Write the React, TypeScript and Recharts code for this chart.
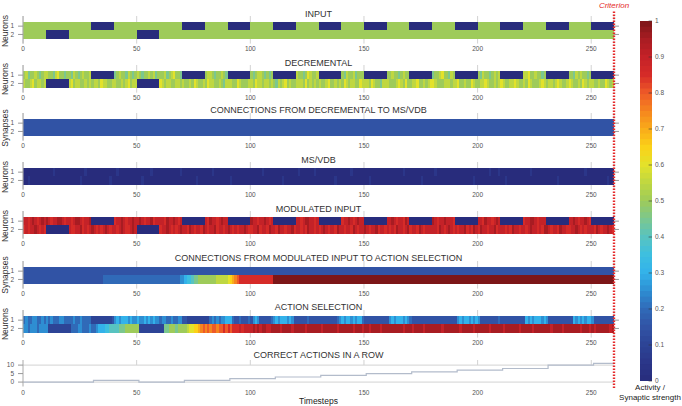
import React from 'react'
import { ComposedChart, XAxis, YAxis, CartesianGrid, ReferenceArea, ReferenceLine, Line } from 'recharts'

const FONT = '"Liberation Sans", Arial, Helvetica, sans-serif'

// x axis (timesteps)
const xTicks = [0, 50, 100, 150, 200, 250]
const tMax = 260
const criterionT = 260

// heatmap values: one char per timestep, 10 timesteps per chunk
// a = 0, b = 0.05, c = 0.1 ... k = 0.5 ... u = 1
const G = 'kkkkkkkkkk'
const N = 'aaaaaaaaaa'
const D = 'dddddddddd'
const U = 'uuuuuuuuuu'

const inputN1 = [G, G, G, N, G, G, G, N, G, N, G, N, G, N, G, N, G, N, G, N, G, N, G, N, G, N]
const inputN2 = [G, N, G, G, G, N, G, G, G, G, G, G, G, G, G, G, G, G, G, G, G, G, G, G, G, G]

const decN1 = [
  'kljkklkjkl', 'lkkjlmkkjk', 'kjlkjklkkl', N, 'jklkkjlkjk', 'lkjkklkljk', 'kkljklmkkj', N,
  'kllkjkklkj', N, 'kjkllkjkjk', N, 'lkkjkmlkkl', N, 'kjlkkljkkk', N, 'kklkkjklkk', N,
  'jkklmkkjlk', N, 'kjlkkjklkl', N, 'llmkklkkjk', N, 'kkjlklkkjk', N,
]
const decN2 = [
  'lkklmkllkl', N, 'lmkllkklkl', 'kllkmllkkl', 'lkklklmkll', N, 'mlkllkkllk', 'lkklkmlkkl',
  'kmllkklkjl', 'llkkmlkkkl', 'lkmllkllkl', 'kjlklmklkk', 'lllkmklklk', 'lkklmkklkl',
  'kmlkllkkml', 'llkmlkkjll', 'lkkklmlkmk', 'kllmkklklm', 'mlkkklllkl', 'lmkklkkmlk',
  'kllmlkklkl', 'mlkkllmlkk', 'lkmlkkklml', 'kllklmlkkl', 'mlkklkmlkl', 'lkklkkmlkl',
]

const connDecS1 = Array(26).fill(D)
const connDecS2 = Array(26).fill(D)

const msvdbN1 = [
  N, 'aaabaaaaaa', 'aaaaaaabaa', N, 'abaaaaaaaa', 'aaaaaabaaa', 'aaaaaaaaab', N, 'aaabaaaaaa', N,
  'aaaaabaaaa', N, 'abaaaaaaba', N, 'aaaabaaaaa', N, 'aaaaaaabaa', N, 'abaaaaaaaa', N,
  'aaaaabaaab', N, 'aaabaaaaaa', N, 'aaaaaaabaa', N,
]
const msvdbN2 = [
  'aabaaaaaaa', N, 'aaaaabaaaa', 'aaaaaaaaba', N, 'aabaaaaaaa', N, 'aaaaaabaaa', N, 'abaaaaaaaa',
  N, 'aaaabaaaaa', N, 'aaaaaaabaa', N, 'aabaaaaaaa', N, 'aaaaabaaaa', N, 'aaaaaaaaba',
  N, 'aabaaaaaaa', N, 'aaaaabaaaa', N, 'aaaaaaabaa',
]

const modN1 = [
  'ssrstsrsts', 'tsrssttsrs', 'srsttsrsst', N, 'rsstsrssts', 'stsrsstrss', 'ssrtsstsrs', N,
  'srtssrstss', N, 'tssrsstsrs', N, 'ssrsttssrs', N, 'rsstsrstss', N, 'sstsrssrts', N,
  'tsrsstsssr', N, 'ssrtssrsts', N, 'rssttsrsss', N, 'sstsrsstsr', N,
]
const modN2 = [
  'rsrsstsrsr', N, 'srrsstrsrs', 'tsrsrstsrs', 'srstsrrsts', N, 'rsstsrsrst', 'ssrtsrssrt',
  'srsstrssrs', 'tsrsrsstsr', 'rsstrssrts', 'srtssrsstr', 'ssrsrtssrs', 'rstsrssrts',
  'srssrtsrss', 'tsrsstrssr', 'srsrtssrst', 'rssrtsrsss', 'ssrtsrstsr', 'srsstrsrts',
  'rtssrsstrs', 'ssrsrtssrs', 'srstssrsrt', 'tsrssrtssr', 'rsstsrsrss', 'srtsrsstsr',
]

const connModS1 = Array(26).fill(D)
const connModS2 = [
  D, D, D, 'dddddeeeee', 'eeeeeeeeee', 'eeeeeeeeee', 'eeeeeeeeef', 'fghhijjkkk', 'kkkkklllll',
  'mnopqrrrrr', 'rrrrrrrrrr', U, U, U, U, U, U, U, U, U, U, U, U, U, U, U,
]

const actN1 = [
  'efeeffeefe', 'fefeeeffee', 'eefeefeeee', 'cccccccccd', 'fgfgggfgff', 'gffgfgfgff', 'effeefeeff',
  'ddcccccccc', 'ccefefeffg', 'ggeddeddde', 'dfgfddddde', 'fgfgggfgfd', 'dddddedddd', 'ddddddddef',
  'gfggfgfgge', 'dddddddddd', 'dfgfgggfgf', 'eddddddddd', 'dddddddddd', 'dfgfggfgfg', 'fdddddddde',
  'dddddddddd', 'dgfgfgggfg', 'fddddddddd', 'ddgfgfgfgg', 'fddddddddd',
]
const actN2 = [
  'ffefffefff', 'fccccccccc', 'ceeeffeeef', 'eefggghhii', 'iijjjkkkkk', 'kccccccccc', 'ccjjkkkjkk',
  'kklmmnnopq', 'pqpqqpqqrq', 'rqrrrsrsss', 'stststtsst', 'tttsttttst', 'ttttsttttt', 'tsttttttst',
  'tttttsttts', 'ttsttttstt', 'tttttttstt', 'tsttttsttt', 'ttttsttttt', 'ttstttttst', 'tttttstttt',
  'tsttttttst', 'ttttsttttt', 'ttsttttstt', 'tttttsttts', 'tsttttttst',
]

// correct actions in a row (step changes)
const correctT = [0, 31, 51, 71, 91, 111, 131, 151, 171, 191, 211, 231, 251, 260]
const correctV = [0, 1, 0, 1, 2, 3, 4, 5, 6, 7, 8, 10, 11, 11]

const colorTicks = [0, 0.1, 0.2, 0.3, 0.4, 0.5, 0.6, 0.7, 0.8, 0.9, 1]

const panels = [
  { title: 'INPUT', yLabel: 'Neurons', rows: [inputN1, inputN2], titleY: 13.8, heatTop: 22.3 },
  { title: 'DECREMENTAL', yLabel: 'Neurons', rows: [decN1, decN2], titleY: 62.8, heatTop: 70.5 },
  { title: 'CONNECTIONS FROM DECREMENTAL TO MS/VDB', yLabel: 'Synapses', rows: [connDecS1, connDecS2], titleY: 110, heatTop: 119.3 },
  { title: 'MS/VDB', yLabel: 'Neurons', rows: [msvdbN1, msvdbN2], titleY: 160, heatTop: 168.3 },
  { title: 'MODULATED INPUT', yLabel: 'Neurons', rows: [modN1, modN2], titleY: 209.3, heatTop: 217.3 },
  { title: 'CONNECTIONS FROM MODULATED INPUT TO ACTION SELECTION', yLabel: 'Synapses', rows: [connModS1, connModS2], titleY: 257.5, heatTop: 266.7 },
  { title: 'ACTION SELECTION', yLabel: 'Neurons', rows: [actN1, actN2], titleY: 307.3, heatTop: 315.7 },
]

// colour map stops (value, hex)
const cmapStops: [number, string][] = [
  [0.0, '#282c7c'], [0.05, '#2b3689'], [0.1, '#2d4496'], [0.15, '#3153a5'], [0.2, '#306ab8'],
  [0.25, '#2e8ed2'], [0.3, '#33b2ea'], [0.35, '#3dbfe0'], [0.4, '#58c3c0'], [0.45, '#7bc78f'],
  [0.5, '#9ecb5a'], [0.55, '#bfd741'], [0.6, '#e3e22b'], [0.65, '#fbd118'], [0.7, '#f9ab1a'],
  [0.75, '#f5851f'], [0.8, '#ee5a28'], [0.85, '#d62b28'], [0.9, '#c42228'], [0.95, '#a81c22'],
  [1.0, '#7c1618'],
]

const hex = (h: string) => [1, 3, 5].map((i) => parseInt(h.slice(i, i + 2), 16))

function cmap(v: number) {
  for (let i = 1; i < cmapStops.length; i++) {
    const [v1, c1] = cmapStops[i]
    const [v0, c0] = cmapStops[i - 1]
    if (v <= v1 + 1e-9) {
      const f = (v - v0) / (v1 - v0)
      const a = hex(c0)
      const b = hex(c1)
      const rgb = a.map((x, k) => Math.round(x + (b[k] - x) * Math.max(0, Math.min(1, f))))
      return `rgb(${rgb.join(',')})`
    }
  }
  return cmapStops[cmapStops.length - 1][1]
}

const decode = (chunks: string[]) =>
  chunks.flatMap((chunk, i) => chunk.split('').map((c, j) => ({ t: i * 10 + j, v: (c.charCodeAt(0) - 97) / 20 })))

function toRuns(chunks: string[]) {
  const out: { x1: number; x2: number; v: number }[] = []
  decode(chunks).forEach(({ t, v }) => {
    const last = out[out.length - 1]
    if (last && last.v === v && last.x2 === t) last.x2 = t + 1
    else out.push({ x1: t, x2: t + 1, v })
  })
  return out
}

const tickStyle = { fontSize: 6.5, fill: '#555' }
const gridColor = '#d2d2d2'
const PLOT_H = 27.6
const AXIS_H = 14
const HEAT_DOMAIN = [-0.22, 3.1]
// small overlap so neighbouring cells leave no anti-aliasing seam
const SEAM = 0.25

function HeatPanel({ rows, heatTop }: { rows: string[][]; heatTop: number }) {
  const r1 = decode(rows[0])
  const r2 = decode(rows[1])
  const data = r1.map((d, i) => ({ t: d.t, n1: d.v, n2: r2[i] ? r2[i].v : null }))
  return (
    <div style={{ position: 'absolute', left: 0, top: heatTop - 6 }}>
      <ComposedChart width={682} height={PLOT_H + AXIS_H} data={data} margin={{ top: 0, right: 62, bottom: 0, left: 0 }}>
        <CartesianGrid stroke={gridColor} horizontal={false} />
        <XAxis
          type="number"
          dataKey="t"
          domain={[0, tMax]}
          ticks={xTicks}
          interval={0}
          height={AXIS_H}
          tick={tickStyle}
          tickLine={false}
          axisLine={false}
          tickSize={0}
          tickMargin={3}
        />
        <YAxis
          type="number"
          dataKey="n1"
          domain={HEAT_DOMAIN}
          allowDataOverflow
          reversed
          ticks={[1, 2]}
          interval={0}
          width={23}
          tick={tickStyle}
          tickSize={5}
          tickMargin={4}
          tickLine={{ stroke: '#999' }}
          axisLine={{ stroke: '#aaa' }}
        />
        <YAxis
          yAxisId="r"
          dataKey="n2"
          orientation="right"
          type="number"
          domain={HEAT_DOMAIN}
          allowDataOverflow
          reversed
          ticks={[1, 2]}
          interval={0}
          width={6}
          tickFormatter={() => ''}
          tickSize={5}
          tickLine={{ stroke: '#999' }}
          axisLine={false}
        />
        {rows.map((row, r) =>
          toRuns(row).map((run, k) => (
            <ReferenceArea
              key={`${r}-${k}`}
              x1={run.x1}
              x2={Math.min(tMax, run.x2 + SEAM)}
              y1={r + 0.5}
              y2={r === 0 ? 1.6 : 2.5}
              fill={cmap(run.v)}
              fillOpacity={1}
              stroke="none"
              shapeRendering="crispEdges"
            />
          ))
        )}
      </ComposedChart>
    </div>
  )
}

function CorrectPanel() {
  const data = correctT.map((t, i) => ({ t, v: correctV[i] }))
  return (
    <div style={{ position: 'absolute', left: 0, top: 359.5 }}>
      <ComposedChart width={682} height={26.5 + AXIS_H} data={data} margin={{ top: 0, right: 62, bottom: 0, left: 0 }}>
        <XAxis
          type="number"
          dataKey="t"
          domain={[0, tMax]}
          ticks={xTicks}
          interval={0}
          height={AXIS_H}
          tick={tickStyle}
          tickLine={false}
          axisLine={false}
          tickSize={0}
          tickMargin={4}
        />
        <YAxis
          type="number"
          domain={[-2.6, 13]}
          ticks={[0, 5, 10]}
          interval={0}
          width={23}
          tick={tickStyle}
          tickSize={5}
          tickMargin={4}
          tickLine={{ stroke: '#999' }}
          axisLine={{ stroke: '#aaa' }}
        />
        <YAxis
          yAxisId="r"
          orientation="right"
          type="number"
          domain={[-2.6, 13]}
          ticks={[0, 5, 10]}
          interval={0}
          width={6}
          tickFormatter={() => ''}
          tickSize={5}
          tickLine={{ stroke: '#999' }}
          axisLine={false}
        />
        <ReferenceLine y={0} stroke={gridColor} />
        <ReferenceLine y={10} stroke={gridColor} />
        {xTicks.slice(1).map((x) => (
          <ReferenceLine key={x} segment={[{ x, y: 10 }, { x, y: 13 }]} stroke={gridColor} />
        ))}
        <Line
          type="stepAfter"
          dataKey="v"
          stroke="#b3bccb"
          strokeWidth={1.2}
          dot={false}
          isAnimationActive={false}
        />
      </ComposedChart>
    </div>
  )
}

function ColorBar() {
  const n = 64
  const bands = Array.from({ length: n }, (_, i) => i)
  const data = colorTicks.map((v) => ({ x: 0.5, v }))
  return (
    <div style={{ position: 'absolute', left: 630, top: 0 }}>
      <ComposedChart width={52} height={406} data={data} margin={{ top: 21, right: 0, bottom: 25, left: 10 }}>
        <XAxis type="number" dataKey="x" domain={[0, 1]} hide />
        <YAxis
          orientation="right"
          type="number"
          dataKey="v"
          domain={[0, 1]}
          ticks={colorTicks}
          interval={0}
          width={30}
          tick={tickStyle}
          tickFormatter={(v: number) => (v === 0 ? '0' : v === 1 ? '1' : v.toFixed(1))}
          tickLine={false}
          tickSize={2}
          tickMargin={1}
          axisLine={false}
        />
        {bands.map((i) => (
          <ReferenceArea
            key={i}
            x1={0}
            x2={1}
            y1={i / n}
            y2={Math.min(1, (i + 1.3) / n)}
            fill={cmap((i + 0.5) / n)}
            fillOpacity={1}
            stroke="none"
          />
        ))}
        {colorTicks.map((v) => (
          <ReferenceLine key={v} segment={[{ x: 0.72, y: v }, { x: 1, y: v }]} stroke="#333" strokeWidth={0.6} />
        ))}
      </ComposedChart>
    </div>
  )
}

function CriterionOverlay() {
  const data = [{ t: criterionT, y: 0 }, { t: criterionT, y: 1 }]
  return (
    <div style={{ position: 'absolute', left: 0, top: 0 }}>
      <ComposedChart width={682} height={406} data={data} margin={{ top: 10, right: 68, bottom: 18, left: 23 }}>
        <XAxis type="number" dataKey="t" domain={[0, tMax]} hide />
        <YAxis type="number" dataKey="y" domain={[0, 1]} hide />
        <ReferenceLine
          x={criterionT}
          stroke="#e52a2b"
          strokeWidth={2.4}
          strokeDasharray="1.5 1.5"
          label={{ value: 'Criterion', position: 'top', fill: '#e52a2b', fontSize: 8, fontStyle: 'italic', offset: 2 }}
        />
      </ComposedChart>
    </div>
  )
}

const textBase: React.CSSProperties = { position: 'absolute', lineHeight: 1, whiteSpace: 'nowrap', color: '#333' }

export default function App() {
  return (
    <div
      style={{
        position: 'absolute',
        left: 0,
        top: 0,
        width: 682,
        height: 406,
        background: '#fff',
        fontFamily: FONT,
        overflow: 'hidden',
      }}
    >
      {panels.map((p) => (
        <React.Fragment key={p.title}>
          <div
            style={{ ...textBase, left: 23, width: 591, top: p.titleY, transform: 'translateY(-50%)', textAlign: 'center', fontSize: 9 }}
          >
            {p.title}
          </div>
          <div
            style={{ ...textBase, left: 5, top: p.heatTop + 8.3, transform: 'translate(-50%, -50%) rotate(-90deg)', fontSize: 8.5 }}
          >
            {p.yLabel}
          </div>
          <HeatPanel rows={p.rows} heatTop={p.heatTop} />
        </React.Fragment>
      ))}
      <div style={{ ...textBase, left: 23, width: 591, top: 355.2, transform: 'translateY(-50%)', textAlign: 'center', fontSize: 9 }}>
        CORRECT ACTIONS IN A ROW
      </div>
      <CorrectPanel />
      <div style={{ ...textBase, left: 23, width: 591, top: 401, transform: 'translateY(-50%)', textAlign: 'center', fontSize: 8.5, color: '#222' }}>
        Timesteps
      </div>
      <ColorBar />
      <div style={{ ...textBase, left: 600, width: 100, top: 388, transform: 'translateY(-50%)', textAlign: 'center', fontSize: 8, color: '#222' }}>
        Activity /
      </div>
      <div style={{ ...textBase, left: 600, width: 100, top: 397.5, transform: 'translateY(-50%)', textAlign: 'center', fontSize: 8, color: '#222' }}>
        Synaptic strength
      </div>
      <CriterionOverlay />
    </div>
  )
}
